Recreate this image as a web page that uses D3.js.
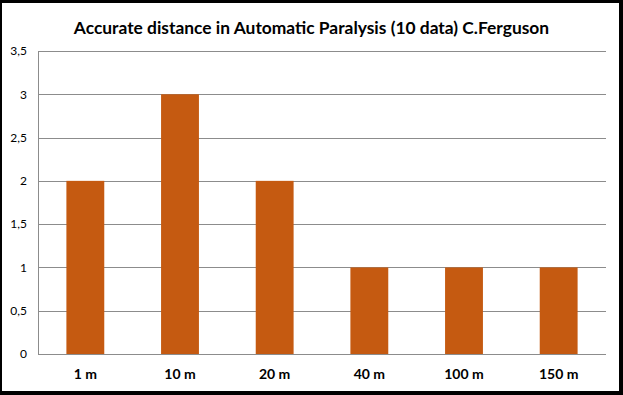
<!DOCTYPE html>
<html>
<head>
<meta charset="utf-8">
<script src="https://cdn.jsdelivr.net/npm/d3@7"></script>
<style>
  html, body { margin: 0; padding: 0; background: #fff; }
  #chart-wrapper { width: 623px; height: 395px; }
</style>
</head>
<body>
<div id="chart-wrapper"></div>
<script>
const categories = ["1 m", "10 m", "20 m", "40 m", "100 m", "150 m"]
const counts = [2, 3, 2, 1, 1, 1]
const yTicks = [0, 0.5, 1, 1.5, 2, 2.5, 3, 3.5]
const title = "Accurate distance in Automatic Paralysis (10 data) C.Ferguson"

const initChart = () => {
  const width = 623
  const height = 395
  const margin = ({ top: 51, right: 17, bottom: 41, left: 38 })

  const svg = d3.select("#chart-wrapper").append("svg")
    .attr("width", width)
    .attr("height", height)
    .attr("viewBox", [0, 0, width, height])

  // black frame, uneven like the original export
  svg.append("rect")
    .attr("width", width).attr("height", height)
    .attr("fill", "#000")
  svg.append("rect")
    .attr("x", 2).attr("y", 3)
    .attr("width", width - 6).attr("height", height - 7)
    .attr("fill", "#fff")

  const x = d3.scaleBand()
    .domain(categories)
    .range([margin.left, width - margin.right])
    .padding(0)

  const y = d3.scaleLinear()
    .domain([0, 3.5])
    .range([height - margin.bottom, margin.top])

  const fmt = d => String(d).replace(".", ",")

  // gridlines
  svg.append("g")
    .selectAll("line")
    .data(yTicks)
    .join("line")
      .attr("x1", margin.left)
      .attr("x2", width - margin.right)
      .attr("y1", d => Math.round(y(d)) + 0.5)
      .attr("y2", d => Math.round(y(d)) + 0.5)
      .attr("stroke", "#8c8c8c")
      .attr("stroke-width", 1)

  svg.append("line")
    .attr("x1", margin.left + 0.5).attr("x2", margin.left + 0.5)
    .attr("y1", margin.top).attr("y2", height - margin.bottom)
    .attr("stroke", "#8c8c8c")

  const barW = x.bandwidth() * 0.4
  svg.append("g")
    .selectAll("rect")
    .data(counts)
    .join("rect")
      .attr("x", (d, i) => x(categories[i]) + (x.bandwidth() - barW) / 2)
      .attr("y", d => y(d))
      .attr("width", barW)
      .attr("height", d => y(0) - y(d))
      .attr("fill", "#C55A11")

  const yAxis = g => g
    .attr("transform", `translate(${margin.left},0)`)
    .call(d3.axisLeft(y).tickValues(yTicks).tickFormat(fmt).tickSize(0).tickPadding(11))
    .call(g => g.select(".domain").remove())
    .call(g => g.selectAll("text")
      .attr("font-family", "Lato, 'Open Sans', sans-serif")
      .attr("font-size", 12)
      .attr("fill", "#000"))

  const xAxis = g => g
    .attr("transform", `translate(0,${height - margin.bottom})`)
    .call(d3.axisBottom(x).tickSize(0).tickPadding(15))
    .call(g => g.select(".domain").remove())
    .call(g => g.selectAll("text")
      .attr("font-family", "Lato, 'Open Sans', sans-serif")
      .attr("font-weight", "bold")
      .attr("font-size", 14)
      .attr("fill", "#000"))

  svg.append("g").call(yAxis)
  svg.append("g").call(xAxis)

  svg.append("text")
    .attr("x", width / 2)
    .attr("y", 30)
    .attr("text-anchor", "middle")
    .attr("dominant-baseline", "middle")
    .attr("font-family", "Lato, 'Open Sans', sans-serif")
    .attr("font-weight", "bold")
    .attr("font-size", 17.4)
    .attr("fill", "#000")
    .text(title)
}

initChart()
</script>
</body>
</html>
